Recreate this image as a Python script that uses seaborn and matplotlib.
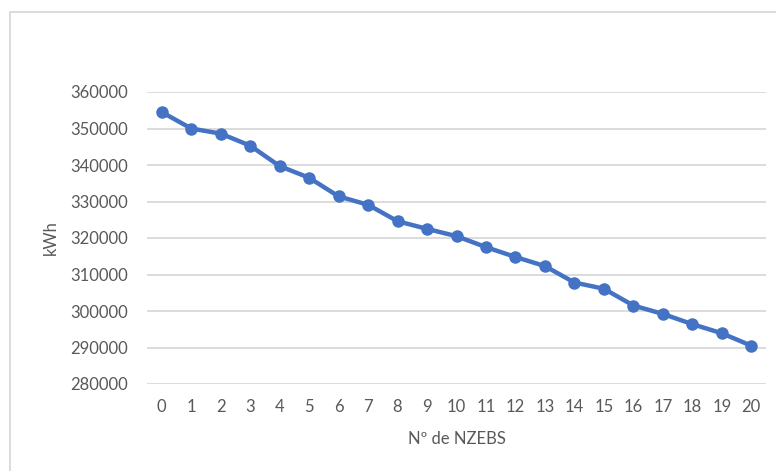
import matplotlib
matplotlib.use('Agg')
import matplotlib.pyplot as plt
from matplotlib.patches import Rectangle
import seaborn as sns
import pandas as pd

# consumo total vs numero de NZEBs
n_nzebs = list(range(0, 21))
kwh = [354500, 350000, 348600, 345300, 339700, 336500, 331400, 329100, 324600,
       322500, 320500, 317500, 314800, 312300, 307800, 306100, 301500, 299200,
       296400, 293900, 290500]
yticks = [280000, 290000, 300000, 310000, 320000, 330000, 340000, 350000, 360000]

df = pd.DataFrame({'n': n_nzebs, 'kwh': kwh})

sns.set_style('white')
plt.rcParams['font.family'] = ['Lato', 'DejaVu Sans']
txt = '#595959'
blue = '#4472C4'

fig = plt.figure(figsize=(7.76, 4.71), dpi=100)
ax = fig.add_axes([147/776, 1-384/471, (766-147)/776, (384-92)/471])

sns.lineplot(data=df, x='n', y='kwh', ax=ax, color=blue, linewidth=3.2,
             marker='o', markersize=9, markeredgewidth=0, zorder=3)

ax.set_xlim(-0.5, 20.5)
ax.set_ylim(280000, 360000)
ax.set_yticks(yticks)
ax.set_yticklabels([str(v) for v in yticks])
ax.set_xticks(n_nzebs)
ax.set_xticklabels([str(v) for v in n_nzebs])
ax.yaxis.grid(True, color='#D9D9D9', linewidth=1.3)
ax.xaxis.grid(False)
for s in ax.spines.values():
    s.set_visible(False)
ax.tick_params(axis='both', length=0, labelsize=12, colors=txt)
ax.tick_params(axis='y', pad=14)
ax.tick_params(axis='x', pad=11)
ax.set_xlabel('Nº de NZEBS', fontsize=12, color=txt, labelpad=11)
ax.set_ylabel('kWh', fontsize=12, color=txt, labelpad=8)

# borde del grafico
fig.add_artist(Rectangle((10/776, -0.2), 1.2, 1.2 - 12/471, transform=fig.transFigure,
                         fill=False, edgecolor='#D9D9D9', linewidth=1.3))

fig.savefig('out.png', dpi=100)
